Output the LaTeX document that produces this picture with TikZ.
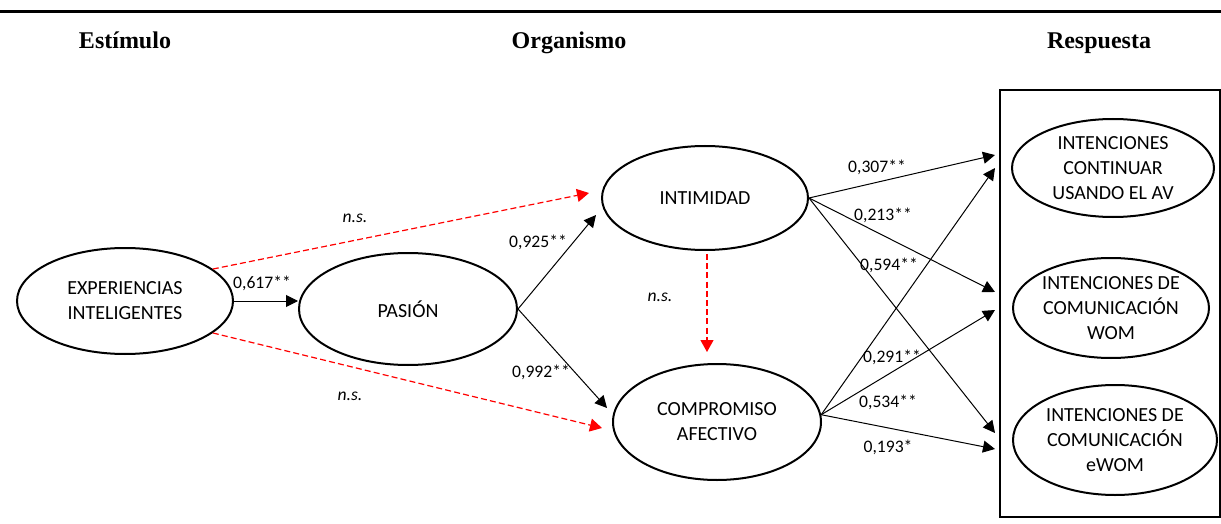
\documentclass[tikz,border=0pt]{standalone}
\usepackage{fontspec}
\setmainfont{Carlito}
\newfontfamily\headfont{Liberation Serif}
\usetikzlibrary{shapes.geometric,arrows.meta,calc}

\begin{document}
\begin{tikzpicture}[x=0.5pt,y=-0.5pt,
  construct/.style={ellipse, draw, line width=1pt, inner sep=0pt, align=center,
    font=\fontsize{10}{12.5}\selectfont},
  effect/.style={-{Triangle[length=6pt,width=6pt]}, line width=0.5pt},
  nseffect/.style={-{Triangle[length=6pt,width=6.5pt]}, line width=0.6pt, red,
    dash pattern=on 3pt off 1.6pt},
  coef/.style={inner sep=0pt, font=\fontsize{8.8}{10}\selectfont},
  nslabel/.style={inner sep=0pt, font=\fontsize{8.8}{10}\selectfont\itshape},
  heading/.style={inner sep=0pt, anchor=base, font=\headfont\bfseries\fontsize{12}{14}\selectfont}]
\useasboundingbox (0,0) rectangle (1221,524);

% top rule and column headings
\coordinate (ruleL) at (0,12);
\coordinate (ruleR) at (1221,12);
\draw[line width=1.5pt] (ruleL) -- (ruleR);
\node[heading] (hs) at (125,49) {Estímulo};
\node[heading] (ho) at (569,49) {Organismo};
\node[heading] (hr) at (1099,49) {Respuesta};

% constructs
\node[construct, minimum width=108pt, minimum height=53pt] (exp) at (125,301) {EXPERIENCIAS\\INTELIGENTES};
\node[construct, minimum width=109pt, minimum height=56pt] (pas) at (408,309) {PASIÓN};
\node[construct, minimum width=103pt, minimum height=52pt] (int) at (705,198) {INTIMIDAD};
\node[construct, minimum width=104pt, minimum height=58pt] (comp) at (717,422) {COMPROMISO\\AFECTIVO};

% response block
\node[draw, line width=1pt, inner sep=0pt, minimum width=109.75pt, minimum height=213.5pt] (resp) at (1109.75,303.5) {};
\node[construct, minimum width=101pt, minimum height=49pt] (cont) at (1113,168) {INTENCIONES\\CONTINUAR\\USANDO EL AV};
\node[construct, minimum width=98pt, minimum height=50pt] (wom) at (1111,308) {INTENCIONES DE\\COMUNICACIÓN\\WOM};
\node[construct, minimum width=102pt, minimum height=55pt] (ewom) at (1115,440) {INTENCIONES DE\\COMUNICACIÓN\\eWOM};

% arrow tips in front of the response block
\coordinate (t1) at (995,155);
\coordinate (t2) at (995,168);
\coordinate (t3) at (995,292);
\coordinate (t4) at (995,310);
\coordinate (t5) at (995,433);
\coordinate (t6) at (995,449);

% significant paths
\draw[effect] (exp.east) -- (exp.east -| pas.west);
\draw[effect] (pas.east) -- ($(int.west)+(-5,17)$);
\draw[effect] (pas.east) -- ($(comp.west)+(-5,-14)$);
\draw[effect] (int.east) -- (t1);
\draw[effect] (int.east) -- (t3);
\draw[effect] (int.east) -- (t5);
\draw[effect] (comp.4) -- (t2);
\draw[effect] (comp.4) -- (t4);
\draw[effect] (comp.4) -- (t6);

% non-significant paths
\draw[nseffect] (exp.20) -- ($(int.west)+(-12,-5)$);
\draw[nseffect] (exp.-20) -- ($(comp.west)+(-10,6)$);
\draw[nseffect] ($(int.south)+(2,3)$) -- ($(comp.north)+(-10,-11)$);

% path coefficients
\node[coef] (c617) at (262,283) {0,617**};
\node[coef] (c925) at (538,242) {0,925**};
\node[coef] (c992) at (541,372) {0,992**};
\node[coef] (c307) at (877,167) {0,307**};
\node[coef] (c213) at (883,215) {0,213**};
\node[coef] (c594) at (889,265) {0,594**};
\node[coef] (c291) at (892,357) {0,291**};
\node[coef] (c534) at (888,402) {0,534**};
\node[coef] (c193) at (888,447) {0,193*};
\node[nslabel] (ns1) at (355,218) {n.s.};
\node[nslabel] (ns2) at (350,396) {n.s.};
\node[nslabel] (ns3) at (660,297) {n.s.};
\end{tikzpicture}
\end{document}
